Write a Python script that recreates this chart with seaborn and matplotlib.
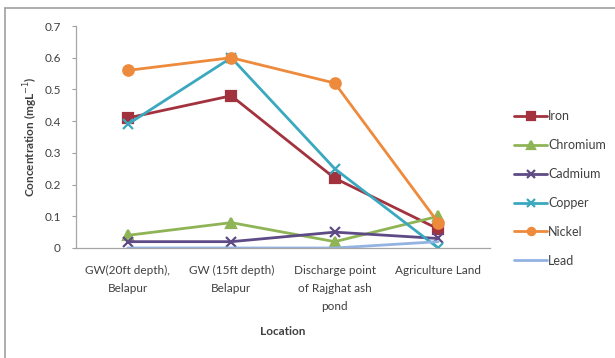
import matplotlib
matplotlib.use("Agg")
import matplotlib.pyplot as plt
from matplotlib.lines import Line2D
import seaborn as sns
import pandas as pd

# Sampling locations (x categories)
locations = [
    "GW(20ft depth),\nBelapur",
    "GW (15ft depth)\nBelapur",
    "Discharge point\nof Rajghat ash\npond",
    "Agriculture Land",
]

# Heavy metal concentrations (mg/L) at each location
iron = [0.41, 0.48, 0.22, 0.06]
chromium = [0.04, 0.08, 0.02, 0.10]
cadmium = [0.02, 0.02, 0.05, 0.03]
copper = [0.39, 0.60, 0.25, 0.00]
nickel = [0.56, 0.60, 0.52, 0.08]
lead = [0.00, 0.00, 0.00, 0.02]

metals = ["Iron", "Chromium", "Cadmium", "Copper", "Nickel", "Lead"]
series = [iron, chromium, cadmium, copper, nickel, lead]

y_ticks = [0, 0.1, 0.2, 0.3, 0.4, 0.5, 0.6, 0.7]
y_tick_labels = ["0", "0.1", "0.2", "0.3", "0.4", "0.5", "0.6", "0.7"]

palette = {
    "Iron": "#A2323E",
    "Chromium": "#8FB456",
    "Cadmium": "#5E4A85",
    "Copper": "#3AA8BE",
    "Nickel": "#EE8A3C",
    "Lead": "#93B3E2",
}
markers = {
    "Iron": "s",
    "Chromium": "^",
    "Cadmium": "x",
    "Copper": "x",
    "Nickel": "o",
    "Lead": None,
}

sns.set_theme(style="white")
plt.rcParams["font.family"] = ["Lato", "DejaVu Sans"]
text_color = "#404040"

fig = plt.figure(figsize=(6.15, 3.58), dpi=100)
ax = fig.add_axes([76 / 615, 1 - 248 / 358, (490 - 76) / 615, (248 - 26) / 358])

for name, vals in zip(metals, series):
    df = pd.DataFrame({"Location": range(len(vals)), "Concentration": vals})
    c = palette[name]
    sns.lineplot(
        data=df, x="Location", y="Concentration", ax=ax, color=c,
        linewidth=2.0, marker=markers[name], markersize=7.5,
        markeredgewidth=1.6, markeredgecolor=c, markerfacecolor=c,
        label=name,
    )

ax.set_xlim(-0.5, 3.5)
ax.set_ylim(0, 0.7)
ax.set_xticks(range(len(locations)))
ax.set_xticklabels(locations, fontsize=8.5, color=text_color, linespacing=1.8)
ax.set_yticks(y_ticks)
ax.set_yticklabels(y_tick_labels, fontsize=8.5, color=text_color)
ax.tick_params(axis="x", length=0, pad=12)
ax.tick_params(axis="y", length=3, width=0.8, color="#A0A0A0", left=True, pad=8)

for side in ["top", "right"]:
    ax.spines[side].set_visible(False)
for side in ["left", "bottom"]:
    ax.spines[side].set_color("#A6A6A6")
    ax.spines[side].set_linewidth(0.9)

ax.set_xlabel("Location", fontsize=8.5, fontweight="bold", color=text_color, labelpad=10)
ax.set_ylabel("Concentration (mgL$^{-1}$)", fontsize=8.5, fontweight="bold",
              color=text_color, labelpad=3)

handles, labels = ax.get_legend_handles_labels()
ax.legend(
    handles, labels, loc="upper left",
    bbox_to_anchor=(503 / 615, 1 - 99 / 358), bbox_transform=fig.transFigure,
    frameon=False, fontsize=9, labelspacing=1.35, handlelength=2.6,
    handletextpad=0.1, labelcolor=text_color, markerscale=0.7,
)

# Chart frame: left and top edges
frame_x = 5 / 615
frame_y = 1 - 8 / 358
fig.add_artist(Line2D([frame_x, frame_x], [0, frame_y], transform=fig.transFigure,
                      color="#A0A0A0", linewidth=1.2))
fig.add_artist(Line2D([frame_x, 1], [frame_y, frame_y], transform=fig.transFigure,
                      color="#A0A0A0", linewidth=1.2))

fig.savefig("out.png", dpi=100, facecolor="white")
